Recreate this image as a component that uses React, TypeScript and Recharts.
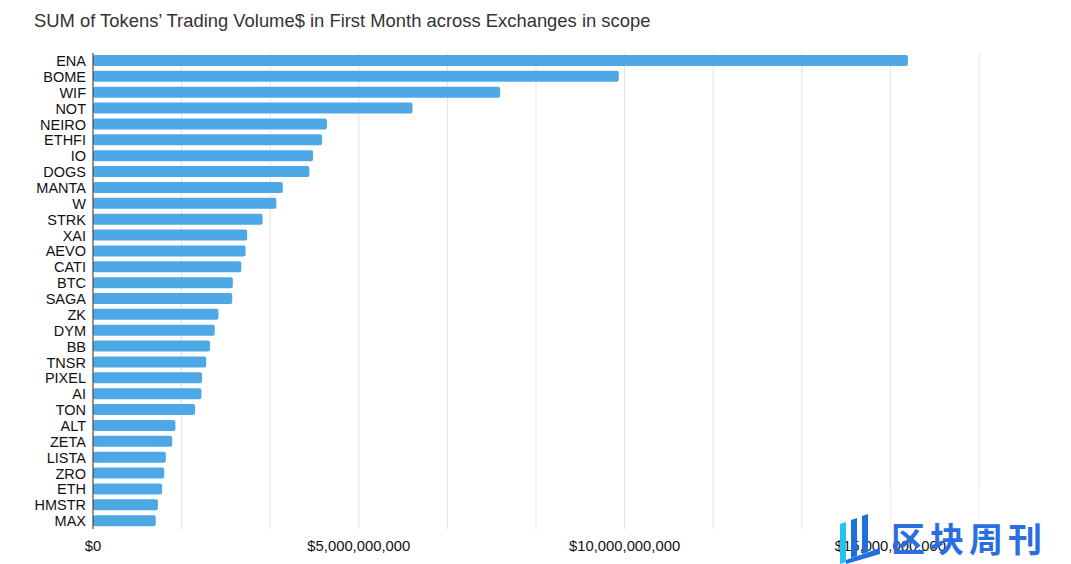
import React from 'react';
import { BarChart, Bar, XAxis, YAxis, CartesianGrid } from 'recharts';

const tokens = [
  'ENA', 'BOME', 'WIF', 'NOT', 'NEIRO', 'ETHFI', 'IO', 'DOGS', 'MANTA', 'W',
  'STRK', 'XAI', 'AEVO', 'CATI', 'BTC', 'SAGA', 'ZK', 'DYM', 'BB', 'TNSR',
  'PIXEL', 'AI', 'TON', 'ALT', 'ZETA', 'LISTA', 'ZRO', 'ETH', 'HMSTR', 'MAX',
];

// trading volume in first month, billions USD
const volumeB = [
  15.33, 9.89, 7.66, 6.01, 4.40, 4.31, 4.14, 4.07, 3.57, 3.45,
  3.19, 2.90, 2.87, 2.79, 2.63, 2.62, 2.36, 2.29, 2.20, 2.13,
  2.05, 2.04, 1.92, 1.55, 1.49, 1.37, 1.34, 1.30, 1.22, 1.18,
];

// gridlines every 5B/3, labels only on the 5B marks
const xTicks = [0, 1, 2, 3, 4, 5, 6, 7, 8, 9, 10].map((k) => (k * 5e9) / 3);
const xTickLabels = ['$0', '', '', '$5,000,000,000', '', '', '$10,000,000,000', '', '', '$15,000,000,000', ''];

const data = tokens.map((name, i) => ({ name, volume: volumeB[i] * 1e9 }));

const font = '"Liberation Sans", Arial, Helvetica, sans-serif';

const App = () => {
  return (
    <div style={{ position: 'absolute', left: 0, top: 0, width: 1071, height: 564, background: '#fff', fontFamily: font }}>
      <div style={{ position: 'absolute', left: 34, top: 10, fontSize: 18.4, color: '#333', whiteSpace: 'nowrap' }}>
        SUM of Tokens’ Trading Volume$ in First Month across Exchanges in scope
      </div>
      <BarChart
        width={1071}
        height={564}
        layout="vertical"
        data={data}
        margin={{ top: 53, right: 92, bottom: 5, left: 0 }}
        barCategoryGap={2}
      >
        <CartesianGrid horizontal={false} stroke="#e2e2e2" />
        <XAxis
          type="number"
          dataKey="volume"
          domain={[0, xTicks[xTicks.length - 1]]}
          ticks={xTicks}
          interval={0}
          tickFormatter={(v, i) => xTickLabels[i] ?? ''}
          axisLine={false}
          tickLine={false}
          tickSize={0}
          tickMargin={11}
          height={30}
          tick={{ fontSize: 14.8, fill: '#111', fontFamily: font }}
        />
        <YAxis
          type="category"
          dataKey="name"
          width={93}
          interval={0}
          axisLine={{ stroke: '#333' }}
          tickLine={false}
          tickSize={0}
          tickMargin={7}
          tick={{ fontSize: 14.5, fill: '#111', fontFamily: font }}
        />
        <Bar dataKey="volume" fill="#4ea8e6" barSize={11} radius={2} isAnimationActive={false} />
      </BarChart>
      {/* watermark */}
      <div style={{ position: 'absolute', left: 833, top: 488, width: 218, height: 44, background: 'rgba(255,255,255,0.5)' }} />
      <svg style={{ position: 'absolute', left: 836, top: 512 }} width={60} height={52}>
        <polygon points="4,12 10,10 10,50 4,52" fill="#22c3f0" />
        <polygon points="15,8 21,6 21,44 15,46" fill="#1f6fe0" />
        <polygon points="26,4 32,2 32,40 26,42" fill="#1f6fe0" />
        <polygon points="10,48 44,36 44,42 10,52" fill="#1f6fe0" />
      </svg>
      <div
        style={{
          position: 'absolute',
          left: 891,
          top: 518,
          fontSize: 34,
          letterSpacing: 5,
          fontWeight: 700,
          color: '#2a6fe2',
          fontFamily: '"Noto Sans CJK SC", sans-serif',
          lineHeight: '40px',
          whiteSpace: 'nowrap',
        }}
      >
        区块周刊
      </div>
    </div>
  );
};

export default App;
